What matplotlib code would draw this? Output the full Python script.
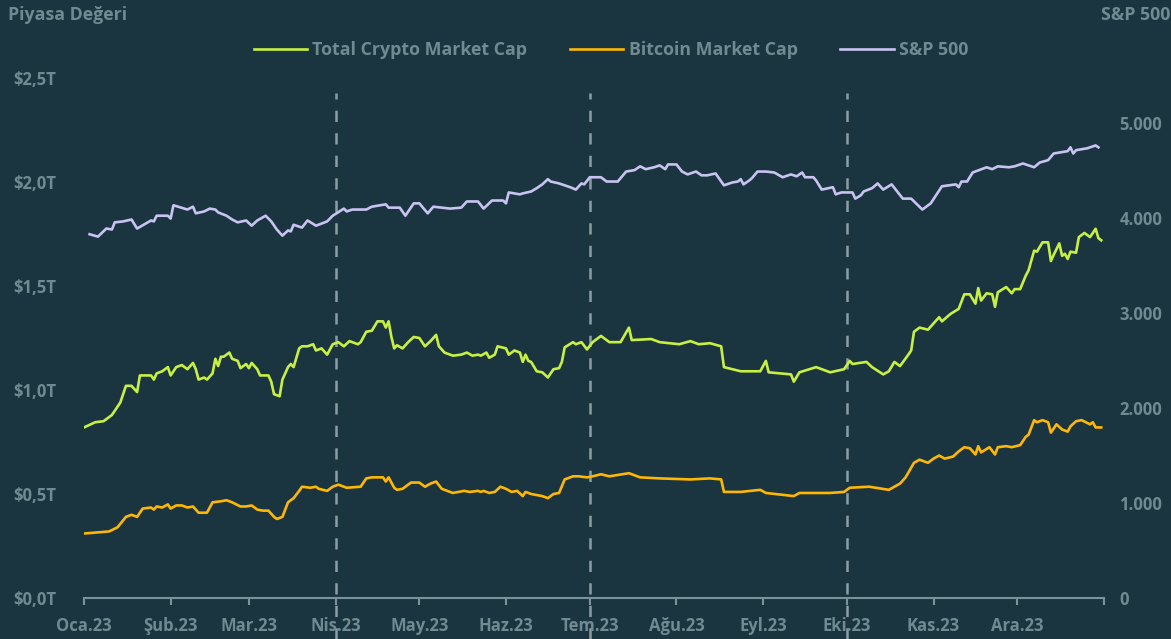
import numpy as np
import pandas as pd
import matplotlib
matplotlib.use('Agg')
import matplotlib.pyplot as plt
from matplotlib.ticker import FuncFormatter

plt.rcParams['font.family'] = ['Open Sans', 'DejaVu Sans']
plt.rcParams['font.weight'] = 'bold'

# data (days since 2023-01-01)
crypto_days = [0, 4, 7, 10, 13, 15, 17, 19, 20, 24, 25, 26, 28, 30, 31, 33, 35, 37, 39, 40,
               41, 43, 44, 46, 47, 48, 49, 50, 52, 53, 55, 56, 58, 59, 60, 62, 63, 66, 67, 68,
               70, 71, 73, 74, 75, 77, 78, 80, 82, 83, 85, 87, 89, 91, 93, 95, 98, 99, 101, 103,
               105, 107, 108, 109, 110, 111, 112, 114, 116, 118, 120, 122, 124, 126, 127, 129, 132, 135, 137, 139,
               141, 142, 144, 145, 147, 148, 151, 152, 154, 156, 157, 158, 159, 160, 162, 164, 166, 168, 170, 171,
               172, 175, 176, 178, 180, 182, 185, 188, 192, 195, 196, 203, 206, 213, 217, 220, 224, 228, 229, 235,
               242, 244, 245, 253, 254, 256, 262, 267, 272, 274, 275, 280, 282, 286, 288, 290, 292, 295, 296, 297,
               299, 302, 304, 306, 307, 310, 313, 315, 317, 319, 320, 321, 323, 325, 326, 327, 330, 332, 333, 335,
               337, 338, 340, 341, 343, 345, 346, 347, 349, 350, 351, 352, 353, 355, 356, 358, 360, 361, 362, 363, 364]
crypto_cap = [0.82, 0.845, 0.85, 0.88, 0.94, 1.02, 1.02, 0.99, 1.07, 1.07, 1.05, 1.08, 1.09, 1.11, 1.07, 1.11, 1.12, 1.10, 1.13, 1.10,
              1.05, 1.06, 1.05, 1.08, 1.15, 1.115, 1.16, 1.16, 1.18, 1.15, 1.14, 1.105, 1.125, 1.105, 1.13, 1.10, 1.07, 1.07, 1.04, 0.98,
              0.97, 1.05, 1.11, 1.125, 1.11, 1.20, 1.21, 1.21, 1.22, 1.19, 1.20, 1.17, 1.22, 1.23, 1.21, 1.235, 1.22, 1.23, 1.28, 1.285,
              1.33, 1.33, 1.30, 1.33, 1.255, 1.20, 1.215, 1.20, 1.23, 1.255, 1.25, 1.21, 1.235, 1.265, 1.21, 1.18, 1.165, 1.17, 1.18, 1.165,
              1.17, 1.165, 1.18, 1.155, 1.17, 1.21, 1.20, 1.17, 1.19, 1.18, 1.135, 1.17, 1.14, 1.135, 1.09, 1.085, 1.06, 1.10, 1.105, 1.135,
              1.205, 1.23, 1.22, 1.23, 1.195, 1.23, 1.26, 1.23, 1.23, 1.30, 1.24, 1.245, 1.23, 1.22, 1.235, 1.22, 1.225, 1.21, 1.11, 1.09,
              1.09, 1.14, 1.085, 1.075, 1.04, 1.085, 1.11, 1.085, 1.10, 1.14, 1.125, 1.135, 1.11, 1.075, 1.09, 1.135, 1.115, 1.17, 1.19, 1.28,
              1.30, 1.29, 1.32, 1.35, 1.33, 1.365, 1.39, 1.46, 1.46, 1.415, 1.49, 1.43, 1.465, 1.46, 1.40, 1.47, 1.495, 1.465, 1.485, 1.485,
              1.55, 1.575, 1.67, 1.665, 1.71, 1.71, 1.62, 1.65, 1.705, 1.645, 1.655, 1.63, 1.665, 1.66, 1.735, 1.755, 1.735, 1.755, 1.775, 1.73, 1.72]

btc_days = [0, 9, 12, 15, 17, 19, 21, 24, 25, 26, 28, 30, 31, 33, 35, 37, 39, 41, 44, 46,
            49, 51, 53, 56, 58, 60, 62, 64, 66, 68, 69, 71, 73, 75, 77, 78, 81, 83, 84, 87,
            89, 91, 94, 99, 101, 103, 107, 108, 109, 111, 112, 114, 117, 120, 122, 124, 126, 128, 132, 136,
            138, 141, 142, 143, 145, 147, 149, 151, 153, 155, 157, 158, 160, 162, 164, 166, 168, 170, 172, 175,
            177, 180, 182, 185, 188, 195, 199, 206, 217, 224, 228, 229, 235, 242, 244, 254, 256, 267, 272, 274,
            281, 288, 292, 294, 297, 299, 302, 304, 306, 308, 311, 313, 315, 317, 319, 320, 321, 324, 326, 327,
            330, 332, 335, 337, 338, 340, 341, 343, 345, 346, 348, 350, 352, 353, 355, 357, 360, 361, 362, 364]
btc_cap = [0.31, 0.32, 0.34, 0.39, 0.40, 0.39, 0.43, 0.435, 0.425, 0.44, 0.435, 0.45, 0.43, 0.445, 0.445, 0.435, 0.44, 0.41, 0.41, 0.46,
           0.465, 0.47, 0.46, 0.44, 0.44, 0.445, 0.425, 0.42, 0.42, 0.39, 0.38, 0.39, 0.46, 0.48, 0.515, 0.535, 0.53, 0.535, 0.525, 0.515,
           0.535, 0.545, 0.53, 0.535, 0.575, 0.58, 0.58, 0.56, 0.58, 0.53, 0.52, 0.525, 0.555, 0.555, 0.535, 0.55, 0.56, 0.525, 0.505, 0.515,
           0.51, 0.515, 0.51, 0.515, 0.505, 0.51, 0.535, 0.525, 0.51, 0.515, 0.49, 0.51, 0.50, 0.495, 0.49, 0.48, 0.50, 0.505, 0.57, 0.585,
           0.585, 0.58, 0.585, 0.595, 0.585, 0.60, 0.58, 0.575, 0.57, 0.575, 0.57, 0.51, 0.51, 0.52, 0.505, 0.49, 0.505, 0.505, 0.51, 0.53,
           0.535, 0.52, 0.55, 0.58, 0.65, 0.665, 0.65, 0.67, 0.685, 0.67, 0.68, 0.705, 0.725, 0.72, 0.69, 0.73, 0.70, 0.725, 0.69, 0.725,
           0.73, 0.725, 0.735, 0.775, 0.785, 0.855, 0.845, 0.855, 0.845, 0.795, 0.835, 0.81, 0.80, 0.825, 0.85, 0.855, 0.835, 0.845, 0.82, 0.82]

sp_days = [2, 5, 8, 10, 11, 14, 17, 19, 24, 25, 26, 30, 31, 32, 37, 39, 40, 43, 45, 47,
           48, 51, 53, 55, 58, 60, 62, 65, 67, 69, 71, 73, 74, 75, 78, 80, 83, 87, 89, 93,
           94, 96, 101, 103, 108, 109, 113, 115, 118, 120, 123, 125, 128, 131, 135, 137, 141, 143, 146, 150,
           151, 152, 156, 157, 160, 162, 164, 166, 167, 170, 173, 174, 176, 178, 179, 181, 185, 187, 191, 194,
           197, 199, 201, 204, 206, 208, 209, 212, 214, 216, 219, 221, 223, 226, 229, 232, 234, 235, 236, 238,
           239, 241, 244, 247, 250, 253, 255, 257, 258, 261, 262, 264, 268, 269, 271, 275, 276, 278, 279, 282,
           284, 286, 289, 293, 296, 300, 303, 307, 312, 313, 314, 316, 318, 323, 325, 327, 331, 333, 336, 340,
           342, 345, 347, 352, 353, 354, 355, 359, 362, 363]
sp500 = [3830, 3805, 3890, 3880, 3955, 3965, 3985, 3890, 3975, 3965, 4025, 4025, 3995, 4135, 4090, 4120, 4050, 4070, 4100, 4090,
         4060, 4025, 3985, 3955, 3975, 3920, 3975, 4025, 3965, 3880, 3815, 3870, 3860, 3930, 3900, 3975, 3920, 3965, 4025, 4100,
         4070, 4090, 4090, 4120, 4145, 4110, 4110, 4025, 4155, 4155, 4050, 4120, 4110, 4100, 4110, 4175, 4175, 4100, 4185, 4185,
         4155, 4270, 4250, 4260, 4280, 4315, 4355, 4410, 4385, 4365, 4335, 4325, 4300, 4365, 4355, 4430, 4430, 4385, 4385, 4490,
         4505, 4545, 4515, 4535, 4555, 4515, 4565, 4565, 4490, 4460, 4490, 4450, 4450, 4470, 4345, 4375, 4385, 4410, 4355, 4395,
         4420, 4490, 4490, 4480, 4430, 4460, 4440, 4480, 4430, 4430, 4395, 4300, 4325, 4250, 4270, 4270, 4205, 4240, 4280, 4315,
         4365, 4300, 4355, 4205, 4205, 4090, 4155, 4335, 4355, 4325, 4385, 4385, 4480, 4535, 4515, 4545, 4535, 4545, 4575, 4535,
         4585, 4610, 4680, 4705, 4745, 4680, 4715, 4735, 4765, 4745]

quarter_lines = ['2023-04-01', '2023-07-01', '2023-10-01']
month_labels = ['Oca.23', 'Şub.23', 'Mar.23', 'Nis.23', 'May.23', 'Haz.23', 'Tem.23',
                'Ağu.23', 'Eyl.23', 'Eki.23', 'Kas.23', 'Ara.23', '']

start = pd.Timestamp('2023-01-01')
def to_dates(days):
    return start + pd.to_timedelta(days, unit='D')

bg = '#1a3540'
txt = '#718a92'
axc = '#7a9299'

fig = plt.figure(figsize=(11.71, 6.39), dpi=100, facecolor=bg)
ax = fig.add_axes([84 / 1171, 1 - 598 / 639, 1020 / 1171, 520 / 639])
ax.set_facecolor(bg)
ax2 = ax.twinx()

l1, = ax.plot(to_dates(crypto_days), crypto_cap, color='#c8f043', lw=1.9, label='Total Crypto Market Cap')
l2, = ax.plot(to_dates(btc_days), btc_cap, color='#fdb704', lw=1.9, label='Bitcoin Market Cap')
l3, = ax2.plot(to_dates(sp_days), sp500, color='#c9c3f2', lw=1.9, label='S&P 500')

for q in quarter_lines:
    ax.axvline(pd.Timestamp(q), ymin=-0.079, ymax=0.972, color='#8c9ea4', lw=1.8,
               dashes=(4.5, 4.5), clip_on=False, zorder=0)

ax.set_xlim(start, pd.Timestamp('2024-01-01'))
ax.set_ylim(0, 2.5)
ax2.set_ylim(0, 5475)

months = pd.date_range('2023-01-01', '2024-01-01', freq='MS')
ax.set_xticks(months)
ax.set_xticklabels(month_labels)
ax.set_yticks(np.arange(0, 2.51, 0.5))
ax.yaxis.set_major_formatter(FuncFormatter(lambda v, p: f'${v:.1f}T'.replace('.', ',')))
ax2.set_yticks(np.arange(0, 5001, 1000))
ax2.yaxis.set_major_formatter(FuncFormatter(lambda v, p: f'{v:,.0f}'.replace(',', '.')))

for a in (ax, ax2):
    for s in ('top', 'left', 'right', 'bottom'):
        a.spines[s].set_visible(False)
ax.spines['bottom'].set_visible(True)
ax.spines['bottom'].set_color(axc)
ax.spines['bottom'].set_linewidth(1.5)
ax.tick_params(axis='x', colors=axc, length=5, width=1.5, pad=9, labelsize=12, labelcolor=txt)
ax.tick_params(axis='y', length=0, pad=20, labelsize=12, labelcolor=txt)
ax2.tick_params(axis='y', length=0, pad=11, labelsize=12, labelcolor=txt)

fig.text(8 / 1171, 1 - 15 / 639, 'Piyasa Değeri', color=txt, fontsize=12.8, ha='left', va='center')
fig.text(1 - 1 / 1171, 1 - 15 / 639, 'S&P 500', color=txt, fontsize=12.8, ha='right', va='center')

fig.legend(handles=[l1, l2, l3], loc='center', bbox_to_anchor=(611 / 1171, 1 - 50 / 639),
           ncol=3, frameon=False, fontsize=12.8, labelcolor=txt, handlelength=3.0,
           handletextpad=0.3, columnspacing=2.4)

fig.savefig('out.png', dpi=100, facecolor=bg)
